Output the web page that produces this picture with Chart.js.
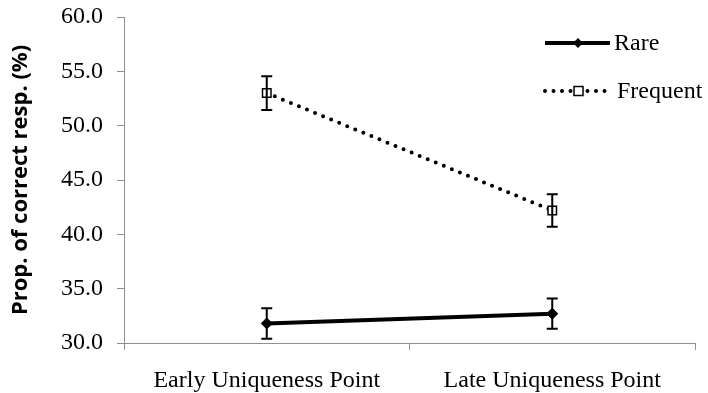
<!DOCTYPE html>
<html>
<head>
<meta charset="utf-8">
<script src="https://cdn.jsdelivr.net/npm/chart.js@4/dist/chart.umd.min.js"></script>
<style>
  html, body { margin: 0; padding: 0; background: #fff; }
  #wrap { width: 708px; height: 393px; position: relative; }
</style>
</head>
<body>
<div id="wrap"><canvas id="chart"></canvas></div>
<script>
// --- Data ---
const categories = ['Early Uniqueness Point', 'Late Uniqueness Point']
const rareValues = [31.8, 32.7]
const rareErrors = [1.4, 1.4]
const frequentValues = [53.0, 42.2]
const frequentErrors = [1.55, 1.5]
const yMin = 30
const yMax = 60
const yStep = 5

const AXIS_GRAY = '#8f8f8f'
const SERIF = '"Liberation Serif", "Times New Roman", serif'

// Draws vertical error bars with caps, positioned from the y scale
const errorBarPlugin = {
  id: 'errorBars',
  afterDatasetsDraw(chart) {
    const ctx = chart.ctx
    const yScale = chart.scales.y
    chart.data.datasets.forEach((ds, i) => {
      const meta = chart.getDatasetMeta(i)
      if (!ds.errors) return
      ctx.save()
      ctx.strokeStyle = '#000'
      ctx.lineWidth = 2
      meta.data.forEach((pt, j) => {
        const v = ds.data[j]
        const e = ds.errors[j]
        const top = yScale.getPixelForValue(v + e)
        const bot = yScale.getPixelForValue(v - e)
        const x = pt.x
        ctx.beginPath()
        ctx.moveTo(x, top); ctx.lineTo(x, bot)
        ctx.moveTo(x - 5.5, top); ctx.lineTo(x + 5.5, top)
        ctx.moveTo(x - 5.5, bot); ctx.lineTo(x + 5.5, bot)
        ctx.stroke()
      })
      ctx.restore()
    })
  }
}

// Legend with a line sample and marker in the middle, like the original
const legendPlugin = {
  id: 'sampleLegend',
  afterDraw(chart) {
    const ctx = chart.ctx
    const items = [
      { label: 'Rare', y: 43, dash: [], width: 4, marker: 'diamond' },
      { label: 'Frequent', y: 91, dash: [0, 8.5], width: 4, marker: 'square' }
    ]
    ctx.save()
    items.forEach(it => {
      ctx.strokeStyle = '#000'
      ctx.lineWidth = it.width
      ctx.lineCap = it.dash.length ? 'round' : 'butt'
      ctx.setLineDash(it.dash)
      ctx.beginPath()
      ctx.moveTo(545, it.y); ctx.lineTo(610, it.y)
      ctx.stroke()
      ctx.setLineDash([])
      ctx.lineWidth = 1.5
      if (it.marker === 'square') {
        ctx.fillStyle = '#fff'
        ctx.fillRect(574, it.y - 4.5, 9, 9)
        ctx.strokeRect(574, it.y - 4.5, 9, 9)
      } else {
        ctx.fillStyle = '#000'
        ctx.beginPath()
        ctx.moveTo(578, it.y - 5); ctx.lineTo(583, it.y)
        ctx.lineTo(578, it.y + 5); ctx.lineTo(573, it.y)
        ctx.closePath(); ctx.fill()
      }
      ctx.fillStyle = '#000'
      ctx.font = '24px ' + SERIF
      ctx.textBaseline = 'middle'
      ctx.fillText(it.label, it.marker === 'square' ? 617 : 614, it.y + 1)
    })
    ctx.restore()
  }
}

new Chart(document.getElementById('chart'), {
  type: 'line',
  data: {
    labels: categories,
    datasets: [
      {
        label: 'Rare',
        data: rareValues,
        errors: rareErrors,
        borderColor: '#000',
        borderWidth: 4,
        pointStyle: 'rectRot',
        pointRadius: 5.5,
        pointBackgroundColor: '#000',
        pointBorderColor: '#000',
        pointBorderWidth: 1
      },
      {
        label: 'Frequent',
        data: frequentValues,
        errors: frequentErrors,
        borderColor: '#000',
        borderWidth: 4,
        borderDash: [0, 8.7],
        borderCapStyle: 'round',
        pointStyle: 'rect',
        pointRadius: 6,
        pointBackgroundColor: '#fff',
        pointBorderColor: '#000',
        pointBorderWidth: 1.5
      }
    ]
  },
  options: {
    responsive: true,
    maintainAspectRatio: false,
    animation: false,
    layout: { padding: { top: 17, right: 13, left: 0, bottom: 0 } },
    plugins: {
      legend: { display: false },
      tooltip: { enabled: false }
    },
    scales: {
      x: {
        offset: true,
        grid: { display: true, drawOnChartArea: false, drawTicks: true, tickLength: 7, color: AXIS_GRAY, offset: true },
        border: { color: AXIS_GRAY, width: 1 },
        ticks: { color: '#000', font: { family: SERIF, size: 24 }, padding: 16, maxRotation: 0 },
        afterFit(scale) {
          scale.height = 50
          scale.paddingLeft = 0
          scale.paddingRight = 0
        }
      },
      y: {
        min: yMin,
        max: yMax,
        grid: { display: true, drawOnChartArea: false, drawTicks: true, tickLength: 7, color: AXIS_GRAY },
        border: { color: AXIS_GRAY, width: 1 },
        ticks: {
          stepSize: yStep,
          color: '#000',
          font: { family: SERIF, size: 24 },
          padding: 14,
          callback: v => v.toFixed(1)
        },
        title: {
          display: true,
          text: 'Prop. of correct resp. (%)',
          color: '#000',
          font: { family: '"Open Sans", "Liberation Sans", sans-serif', size: 22, weight: 'bold' },
          padding: { top: 8, bottom: 6 }
        },
        afterFit(scale) {
          scale.width = 124
          scale.paddingTop = 0
          scale.paddingBottom = 0
        }
      }
    }
  },
  plugins: [errorBarPlugin, legendPlugin]
})
</script>
</body>
</html>
